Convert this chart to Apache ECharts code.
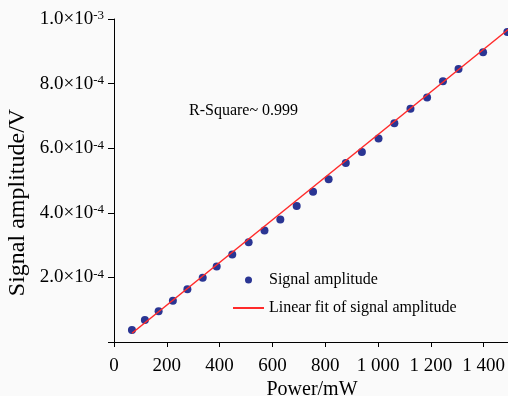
<!DOCTYPE html>
<html>
<head>
<meta charset="utf-8">
<script src="https://cdn.jsdelivr.net/npm/echarts@6/dist/echarts.min.js"></script>
<style>
  html, body { margin: 0; padding: 0; background: #fafafa; }
  #chart { width: 508px; height: 396px; }
</style>
</head>
<body>
<div id="chart"></div>
<script>
// measured points (power in mW, amplitude in V)
const power = [68, 117, 169, 223, 278, 336, 389, 448, 510, 570, 630, 692, 754, 813,
  878, 939, 1002, 1062, 1123, 1186, 1246, 1305, 1398, 1490];
const amplitude = [3.7e-5, 6.8e-5, 9.5e-5, 1.28e-4, 1.63e-4, 1.99e-4, 2.34e-4, 2.71e-4,
  3.09e-4, 3.45e-4, 3.79e-4, 4.21e-4, 4.65e-4, 5.04e-4, 5.54e-4, 5.88e-4, 6.30e-4,
  6.77e-4, 7.22e-4, 7.57e-4, 8.07e-4, 8.45e-4, 8.97e-4, 9.60e-4];
// ends of the linear fit line
const fitPower = [68, 1500];
const fitAmplitude = [2.7e-5, 9.72e-4];

const xTicks = [0, 200, 400, 600, 800, 1000, 1200, 1400];
const yTickMantissa = ['', '2.0', '4.0', '6.0', '8.0', '1.0'];
const yTickExp = ['', '-4', '-4', '-4', '-4', '-3'];

const serif = 'Liberation Serif';
const chart = echarts.init(document.getElementById('chart'));

const option = {
  backgroundColor: '#fafafa',
  animation: false,
  grid: { left: 114, right: -2, top: 19, bottom: 54, outerBoundsMode: 'none', containLabel: false },
  xAxis: {
    type: 'value',
    min: 0,
    max: 1500,
    interval: 200,
    name: 'Power/mW',
    nameLocation: 'middle',
    nameGap: 38,
    nameMoveOverlap: false,
    nameTextStyle: { fontFamily: serif, fontSize: 20, color: '#000' },
    splitLine: { show: false },
    axisLine: { onZero: false, lineStyle: { color: '#000', width: 1 } },
    axisTick: { length: 5, lineStyle: { color: '#000' } },
    axisLabel: {
      margin: 15,
      fontFamily: serif,
      fontSize: 19,
      color: '#000',
      showMaxLabel: false,
      formatter: function (v) {
        if (xTicks.indexOf(v) < 0) return '';
        if (v >= 1000) {
          return Math.floor(v / 1000) + ' ' + String(v % 1000).padStart(3, '0');
        }
        return String(v);
      }
    }
  },
  yAxis: {
    type: 'value',
    min: 0,
    max: 1e-3,
    interval: 2e-4,
    name: 'Signal amplitude/V',
    nameLocation: 'middle',
    nameGap: 84,
    nameMoveOverlap: false,
    nameTextStyle: { fontFamily: serif, fontSize: 24, color: '#000', padding: [0, 44, 0, 0] },
    splitLine: { show: false },
    axisLine: { show: true, lineStyle: { color: '#000', width: 1 } },
    axisTick: { length: 6, lineStyle: { color: '#000' } },
    axisLabel: {
      margin: 10,
      color: '#000',
      formatter: function (v) {
        const i = Math.round(v / 2e-4);
        if (!yTickMantissa[i]) return '';
        return '{m|' + yTickMantissa[i] + '×10}{s|' + yTickExp[i] + '}';
      },
      rich: {
        m: { fontFamily: serif, fontSize: 19, color: '#000' },
        s: { fontFamily: serif, fontSize: 13, color: '#000', verticalAlign: 'top', padding: [0, 0, 4, 0] }
      }
    }
  },
  legend: {
    orient: 'vertical',
    left: 232,
    top: 272,
    padding: 0,
    itemWidth: 31,
    itemHeight: 7,
    itemGap: 12,
    textStyle: { fontFamily: serif, fontSize: 16, color: '#000' },
    data: [
      { name: 'Signal amplitude' },
      { name: 'Linear fit of signal amplitude', itemStyle: { opacity: 0 } }
    ]
  },
  graphic: [{
    type: 'text',
    x: 189,
    y: 111,
    style: {
      text: 'R-Square~ 0.999',
      font: '16px "Liberation Serif"',
      fill: '#000',
      verticalAlign: 'middle'
    }
  }],
  series: [
    {
      name: 'Signal amplitude',
      type: 'scatter',
      symbolSize: 8,
      itemStyle: { color: '#2a3593', opacity: 1 },
      data: power.map((p, i) => [p, amplitude[i]])
    },
    {
      name: 'Linear fit of signal amplitude',
      type: 'line',
      symbol: 'none',
      lineStyle: { color: '#ff2a2a', width: 1.5 },
      itemStyle: { color: '#ff2a2a' },
      data: fitPower.map((p, i) => [p, fitAmplitude[i]])
    }
  ]
};

chart.setOption(option);
</script>
</body>
</html>
